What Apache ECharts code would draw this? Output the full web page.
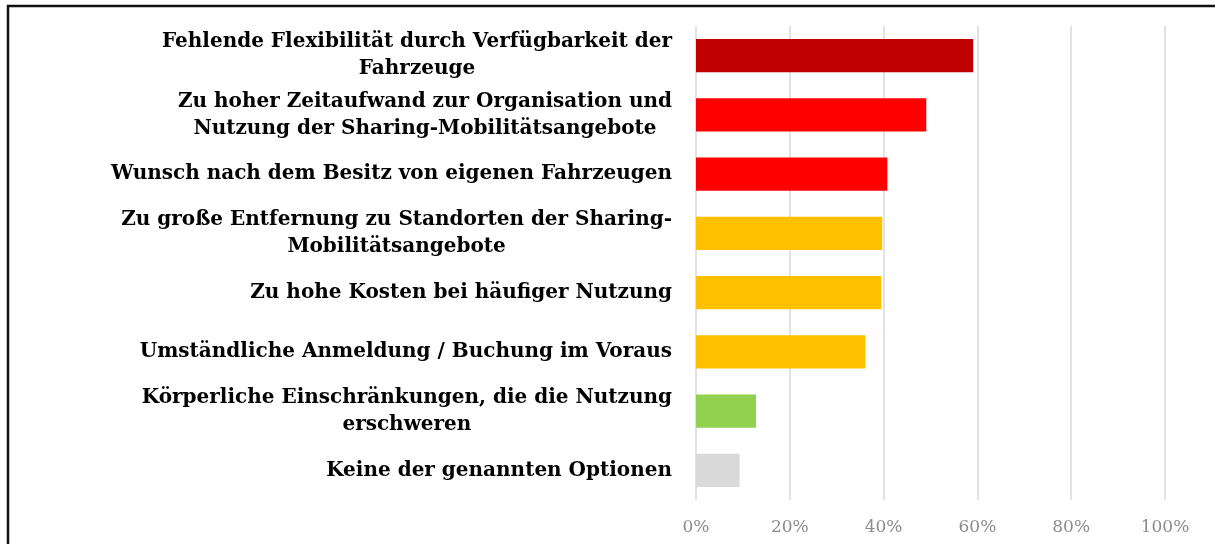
<!DOCTYPE html>
<html>
<head>
<meta charset="utf-8">
<script src="https://cdn.jsdelivr.net/npm/echarts@6/dist/echarts.min.js"></script>
<style>
  html, body { margin: 0; padding: 0; background: #fff; }
  #chart { width: 1215px; height: 544px; }
</style>
</head>
<body>
<div id="chart"></div>
<script>
// Gründe gegen Sharing-Mobilität (Anteil der Befragten)
var categories = [
	'Fehlende Flexibilität durch Verfügbarkeit der\nFahrzeuge',
	'Zu hoher Zeitaufwand zur Organisation und\nNutzung der Sharing-Mobilitätsangebote',
	'Wunsch nach dem Besitz von eigenen Fahrzeugen',
	'Zu große Entfernung zu Standorten der Sharing-\nMobilitätsangebote',
	'Zu hohe Kosten bei häufiger Nutzung',
	'Umständliche Anmeldung / Buchung im Voraus',
	'Körperliche Einschränkungen, die die Nutzung\nerschweren',
	'Keine der genannten Optionen'
];
var values = [59.1, 49.1, 40.8, 39.7, 39.5, 36.1, 12.8, 9.3];
var barColors = ['#C00000', '#FF0000', '#FF0000', '#FFC000', '#FFC000', '#FFC000', '#92D050', '#D9D9D9'];
var tickValues = [0, 20, 40, 60, 80, 100];

var myChart = echarts.init(document.getElementById('chart'));
var option = {
	animation: false,
	graphic: [{
		type: 'rect',
		shape: { x: 8, y: 6, width: 1230, height: 600 },
		style: { fill: 'none', stroke: '#111', lineWidth: 2.5 },
		silent: true
	}],
	grid: {
		left: 696,
		right: 50,
		top: 26,
		bottom: 44
	},
	xAxis: {
		type: 'value',
		min: tickValues[0],
		max: tickValues[tickValues.length - 1],
		interval: 20,
		axisLine: { show: false },
		axisTick: { show: false },
		splitLine: { lineStyle: { color: '#d9d9d9', width: 1.5 } },
		axisLabel: {
			margin: 19,
			color: '#8c8c8c',
			fontSize: 17,
			fontFamily: 'DejaVu Serif',
			formatter: '{value}%'
		}
	},
	yAxis: {
		type: 'category',
		inverse: true,
		data: categories,
		axisLine: { show: false },
		axisTick: { show: false },
		axisLabel: {
			margin: 24,
			formatter: function (v) {
				return '{c|' + v + '}';
			},
			rich: {
				c: {
					align: 'center',
					color: '#000',
					fontFamily: 'DejaVu Serif',
					fontWeight: 'bold',
					fontSize: 20,
					lineHeight: 27
				}
			}
		}
	},
	series: [{
		type: 'bar',
		barCategoryGap: '44%',
		data: values.map(function (v, i) {
			return { value: v, itemStyle: { color: barColors[i] } };
		})
	}]
};
myChart.setOption(option);
</script>
</body>
</html>
